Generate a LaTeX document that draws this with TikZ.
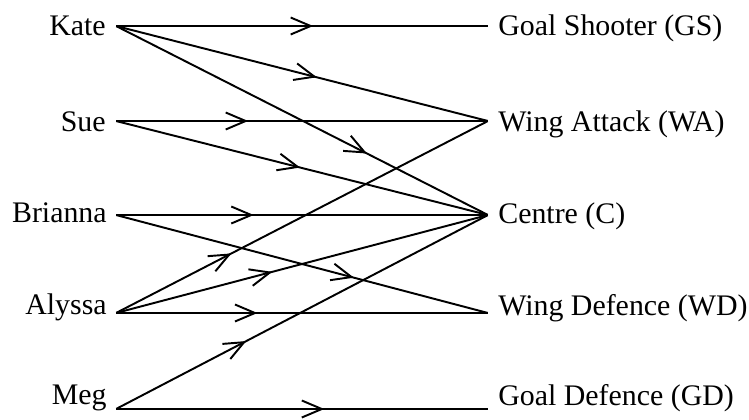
\documentclass[tikz,border=0pt]{standalone}
\usepackage{fontspec}
\setmainfont{Liberation Serif}
\usetikzlibrary{arrows.meta,decorations.markings}

\begin{document}
\begin{tikzpicture}[x=0.02cm, y=-0.02cm, font=\fontsize{17}{20}\selectfont]
    \tikzset{pl/.style={anchor=base east, inner sep=0pt},
      posn/.style={anchor=base west, inner sep=0pt},
      pt/.style={inner sep=0pt, minimum size=0pt},
      link/.style={line width=1.1pt, postaction={decorate},
        decoration={markings, mark=at position #1 with
          {\arrow{Straight Barb[length=0.4cm, width=0.34cm, line width=1.1pt]}}}}}
    \useasboundingbox (0,0) rectangle (749,419);
    % players
    \node[pl] (kate-t) at (106,35) {Kate};
    \node[pl] (sue-t) at (106,131) {Sue};
    \node[pl] (brianna-t) at (107,222) {Brianna};
    \node[pl] (alyssa-t) at (107,314) {Alyssa};
    \node[pl] (meg-t) at (107,404) {Meg};
    \node[pt] (kate) at (116,26) {};
    \node[pt] (sue) at (116,121) {};
    \node[pt] (brianna) at (116,215) {};
    \node[pt] (alyssa) at (116,313) {};
    \node[pt] (meg) at (116,409) {};
    % positions
    \node[posn] (gs-t) at (498,35) {Goal Shooter (GS)};
    \node[posn] (wa-t) at (498,131) {Wing Attack (WA)};
    \node[posn] (c-t) at (498,223) {Centre (C)};
    \node[posn] (wd-t) at (498,315) {Wing Defence (WD)};
    \node[posn] (gd-t) at (498,405) {Goal Defence (GD)};
    \node[pt] (gs) at (488,26) {};
    \node[pt] (wa) at (488,121) {};
    \node[pt] (c) at (488,215) {};
    \node[pt] (wd) at (488,313) {};
    \node[pt] (gd) at (488,409) {};
    % who can play where
    \draw[link=0.53] (kate) -- (gs);
    \draw[link=0.54] (kate) -- (wa);
    \draw[link=0.675] (kate) -- (c);
    \draw[link=0.355] (sue) -- (wa);
    \draw[link=0.495] (sue) -- (c);
    \draw[link=0.37] (brianna) -- (c);
    \draw[link=0.64] (brianna) -- (wd);
    \draw[link=0.31] (alyssa) -- (wa);
    \draw[link=0.42] (alyssa) -- (c);
    \draw[link=0.38] (alyssa) -- (wd);
    \draw[link=0.35] (meg) -- (c);
    \draw[link=0.56] (meg) -- (gd);
  \end{tikzpicture}
\end{document}
